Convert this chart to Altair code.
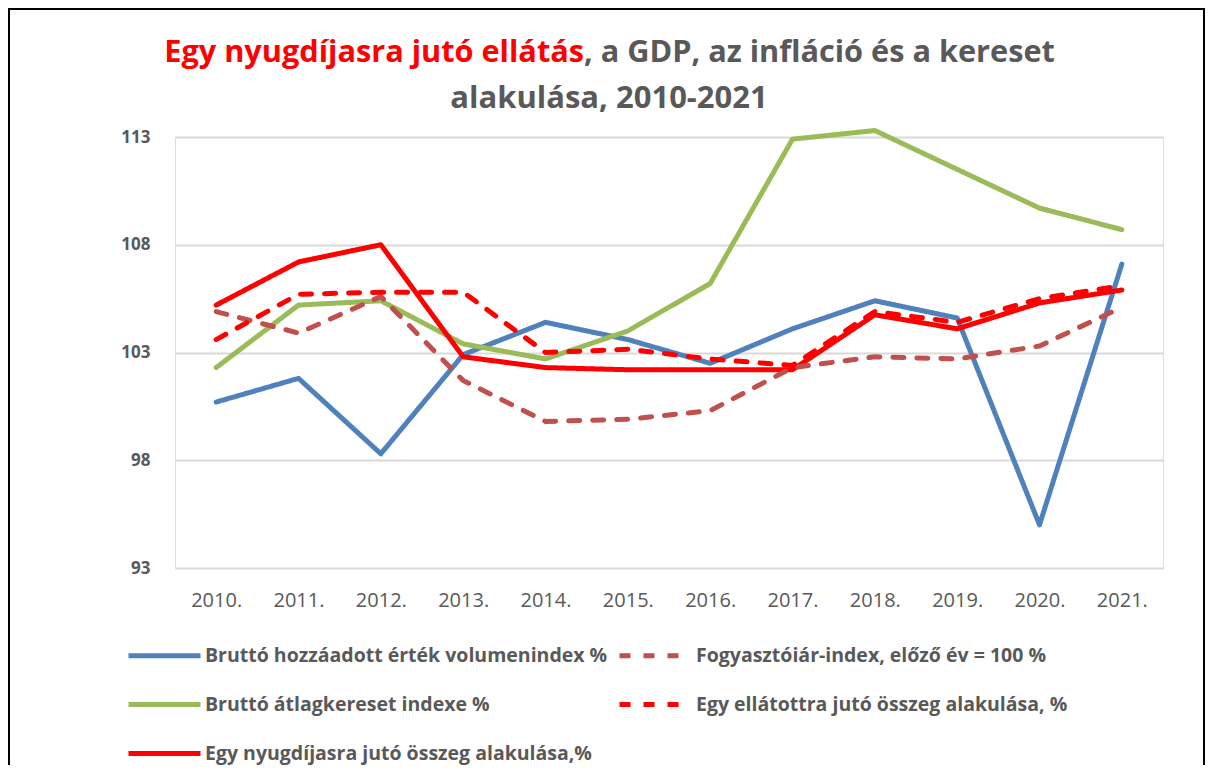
import altair as alt
import pandas as pd

years = ["2010.", "2011.", "2012.", "2013.", "2014.", "2015.", "2016.", "2017.", "2018.", "2019.", "2020.", "2021."]
# legend is filled column by column: col 1 = blue, green, red solid; col 2 = brown, red dashed
series_names = [
    "Bruttó hozzáadott érték volumenindex %",
    "Bruttó átlagkereset indexe %",
    "Egy nyugdíjasra jutó összeg alakulása,%",
    "Fogyasztóiár-index, előző év = 100 %",
    "Egy ellátottra jutó összeg alakulása, %",
]
gva = [100.7, 101.8, 98.3, 102.9, 104.4, 103.6, 102.5, 104.1, 105.4, 104.6, 95.0, 107.1]
wage = [102.3, 105.2, 105.4, 103.4, 102.7, 104.0, 106.2, 112.9, 113.3, 111.5, 109.7, 108.7]
per_pensioner = [105.2, 107.2, 108.0, 102.8, 102.3, 102.2, 102.2, 102.2, 104.75, 104.1, 105.3, 105.9]
cpi = [104.9, 103.9, 105.6, 101.7, 99.8, 99.9, 100.3, 102.3, 102.8, 102.7, 103.3, 105.1]
per_recipient = [103.6, 105.7, 105.8, 105.8, 103.0, 103.15, 102.7, 102.4, 104.9, 104.4, 105.5, 106.1]

colors = ["#4f81bd", "#9bbb59", "#ff0000", "#c0504d", "#ff0000"]
dashes = [[1, 0], [1, 0], [1, 0], [11, 13], [11, 13]]
draw_order = [0, 2, 4, 1, 3]

all_vals = [gva, wage, per_pensioner, cpi, per_recipient]
rows = []
for i, (name, vals) in enumerate(zip(series_names, all_vals)):
    for y, v in zip(years, vals):
        rows.append({"year": y, "value": v, "series": name, "order": draw_order[i]})
df = pd.DataFrame(rows)

W, H = 988, 431
GRAY = "#595959"
FONT = "Open Sans"

lines = alt.Chart(df).mark_line(strokeWidth=5, strokeCap="round", strokeJoin="round").encode(
    x=alt.X("year:N", sort=years, scale=alt.Scale(type="point", padding=0.5),
            axis=alt.Axis(title=None, labelAngle=0, domain=False, ticks=False, grid=False,
                          labelFont=FONT, labelFontSize=20, labelColor=GRAY, labelPadding=22)),
    y=alt.Y("value:Q", scale=alt.Scale(domain=[93, 113], nice=False, zero=False),
            axis=alt.Axis(title=None, values=[93, 98, 103, 108, 113], domain=False, ticks=False,
                          grid=True, gridColor="#d9d9d9", gridWidth=2,
                          labelFont=FONT, labelFontSize=17, labelFontWeight="bold",
                          labelColor=GRAY, labelPadding=25)),
    color=alt.Color("series:N", sort=series_names,
                    scale=alt.Scale(domain=series_names, range=colors),
                    legend=alt.Legend(title=None, orient="none", legendX=-49, legendY=480,
                                      columns=2, columnPadding=1, rowPadding=-31,
                                      symbolType="stroke", symbolSize=5184, symbolStrokeWidth=5,
                                      labelFont=FONT, labelFontSize=19.5, labelFontWeight="bold",
                                      labelColor=GRAY, labelOffset=2, labelLimit=700)),
    strokeDash=alt.StrokeDash("series:N", sort=series_names,
                              scale=alt.Scale(domain=series_names, range=dashes), legend=None),
    detail="series:N",
    order=alt.Order("order:Q"),
)

one = pd.DataFrame({"a": [0]})
title_red = alt.Chart(one).mark_text(text="Egy nyugdíjasra jutó ellátás", font=FONT, fontSize=30.7,
                                     fontWeight="bold", color="#ff0000", align="right",
                                     baseline="alphabetic").encode(x=alt.value(409), y=alt.value(-75))
title_gray = alt.Chart(one).mark_text(text=", a GDP, az infláció és a kereset", font=FONT, fontSize=30.7,
                                      fontWeight="bold", color=GRAY, align="left",
                                      baseline="alphabetic").encode(x=alt.value(409), y=alt.value(-75))
title2 = alt.Chart(one).mark_text(text="alakulása, 2010-2021", font=FONT, fontSize=31,
                                  fontWeight="bold", color=GRAY, align="center",
                                  baseline="alphabetic").encode(x=alt.value(434), y=alt.value(-29))
frame = alt.Chart(one).mark_rect(fill=None, stroke="#000000", strokeWidth=2).encode(
    x=alt.value(-166), x2=alt.value(W + 41), y=alt.value(-128), y2=alt.value(H + 260))

chart = alt.layer(frame, lines, title_red, title_gray, title2).properties(
    width=W, height=H,
    autosize=alt.AutoSizeParams(type="none"),
    padding={"left": 167, "top": 129, "right": 42, "bottom": 197},
).configure_view(stroke=None).configure(background="white")

chart.save("out.html", embed_options={"renderer": "svg", "actions": False})
